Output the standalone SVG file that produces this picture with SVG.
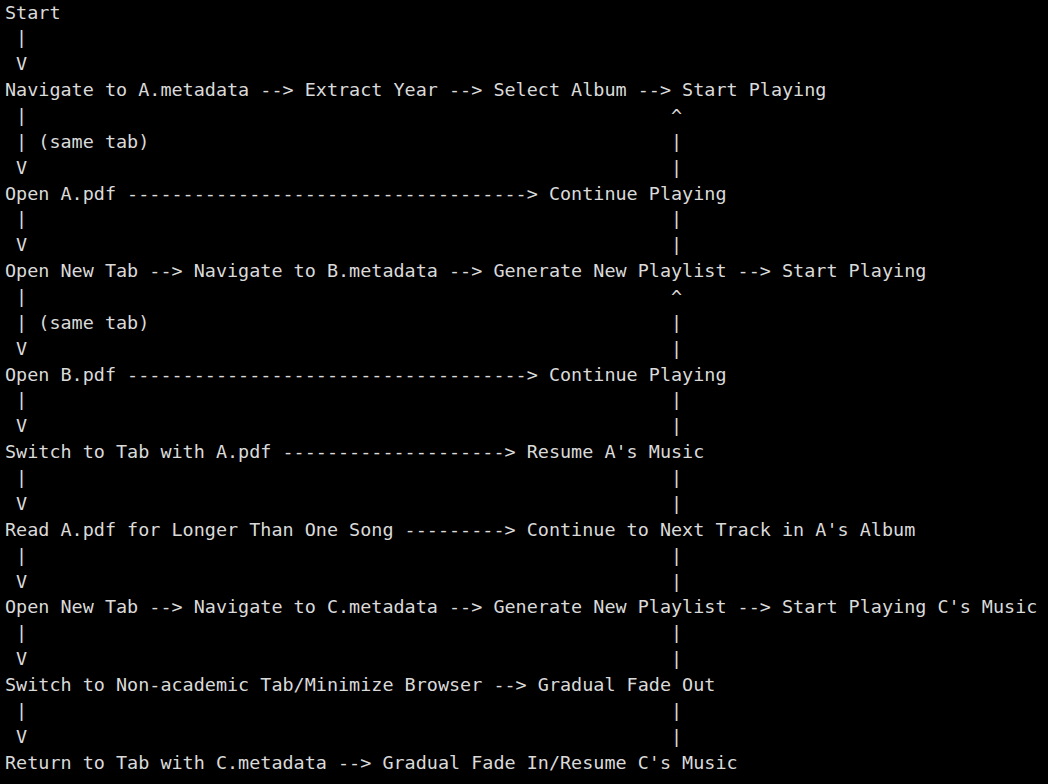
<svg xmlns="http://www.w3.org/2000/svg" width="1048" height="784" viewBox="0 0 1048 784">
<style>
text{font-family:"DejaVu Sans Mono","Liberation Mono",monospace;font-size:18.44px;fill:#dadada;white-space:pre}
</style>
<rect width="1048" height="784" fill="#000"/>
<g id="flow" xml:space="preserve" transform="translate(0,-1)">
<text x="5" y="19.5">Start</text>
<text x="5" y="45.4"> |</text>
<text x="5" y="71.2"> V</text>
<text x="5" y="97.1">Navigate to A.metadata --&gt; Extract Year --&gt; Select Album --&gt; Start Playing</text>
<text x="5" y="122.9"> |                                                          ^</text>
<text x="5" y="148.8"> | (same tab)                                               |</text>
<text x="5" y="174.7"> V                                                          |</text>
<text x="5" y="200.5">Open A.pdf ------------------------------------&gt; Continue Playing</text>
<text x="5" y="226.4"> |                                                          |</text>
<text x="5" y="252.3"> V                                                          |</text>
<text x="5" y="278.1">Open New Tab --&gt; Navigate to B.metadata --&gt; Generate New Playlist --&gt; Start Playing</text>
<text x="5" y="304.0"> |                                                          ^</text>
<text x="5" y="329.8"> | (same tab)                                               |</text>
<text x="5" y="355.7"> V                                                          |</text>
<text x="5" y="381.6">Open B.pdf ------------------------------------&gt; Continue Playing</text>
<text x="5" y="407.4"> |                                                          |</text>
<text x="5" y="433.3"> V                                                          |</text>
<text x="5" y="459.1">Switch to Tab with A.pdf --------------------&gt; Resume A's Music</text>
<text x="5" y="485.0"> |                                                          |</text>
<text x="5" y="510.9"> V                                                          |</text>
<text x="5" y="536.7">Read A.pdf for Longer Than One Song ---------&gt; Continue to Next Track in A's Album</text>
<text x="5" y="562.6"> |                                                          |</text>
<text x="5" y="588.5"> V                                                          |</text>
<text x="5" y="614.3">Open New Tab --&gt; Navigate to C.metadata --&gt; Generate New Playlist --&gt; Start Playing C's Music</text>
<text x="5" y="640.2"> |                                                          |</text>
<text x="5" y="666.0"> V                                                          |</text>
<text x="5" y="691.9">Switch to Non-academic Tab/Minimize Browser --&gt; Gradual Fade Out</text>
<text x="5" y="717.8"> |                                                          |</text>
<text x="5" y="743.6"> V                                                          |</text>
<text x="5" y="769.5">Return to Tab with C.metadata --&gt; Gradual Fade In/Resume C's Music</text>
</g>
</svg>
